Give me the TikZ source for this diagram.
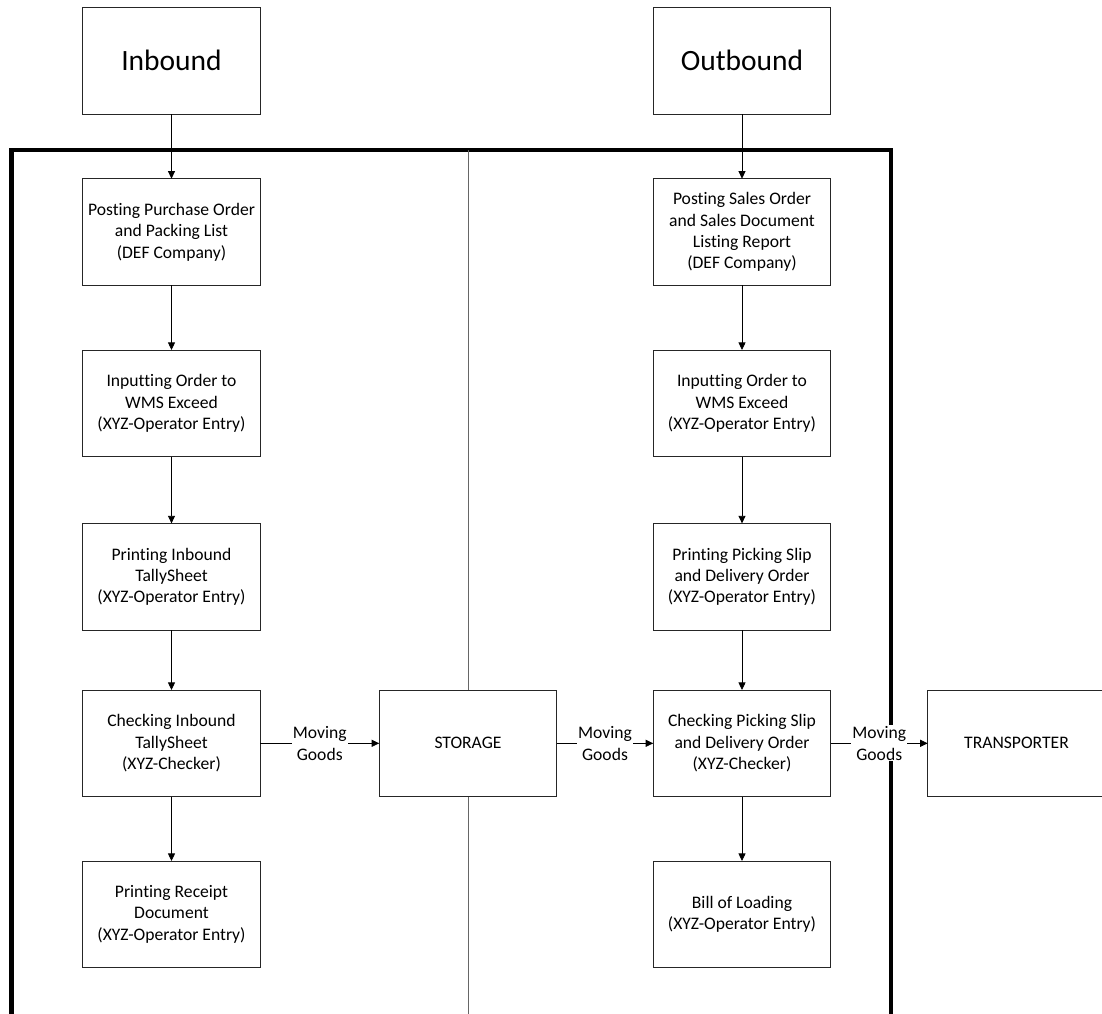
\documentclass[tikz,border=0pt]{standalone}
\usepackage{fontspec}
\setmainfont{Carlito}[Ligatures=NoCommon]
\usetikzlibrary{arrows.meta}
\begin{document}
\begin{tikzpicture}[x=1pt,y=-1pt,
  box/.style={draw=black!85, line width=0.8pt, fill=white, minimum width=177.6pt, minimum height=106.7pt,
    align=center, font=\fontsize{17.6}{21.4}\selectfont, inner sep=2pt, outer sep=0pt},
  headbox/.style={box, font=\fontsize{29.5}{36}\selectfont},
  flow/.style={line width=0.8pt, -{Triangle[length=7.5pt,width=7pt]}},
  lbl/.style={fill=white, align=center, font=\fontsize{17.6}{21.4}\selectfont, inner sep=1pt},
  frame/.style={line width=4.7pt, black},
  divider/.style={line width=0.8pt, black!60}
]
\useasboundingbox (0,0) rectangle (1102,1013);
\clip (0,0) rectangle (1102,1013);

% swimlane frame and divider
\coordinate (fbl) at (11.7,1025);
\coordinate (ftl) at (11.7,150);
\coordinate (ftr) at (891,150);
\coordinate (fbr) at (891,1025);
\coordinate (dt) at (468,150);
\coordinate (db) at (468,1025);
\draw[frame] (fbl) -- (ftl) -- (ftr) -- (fbr);
\draw[divider] (dt) -- (db);

% headers
\node[headbox] (inb) at (171.5,60.7) {Inbound};
\node[headbox] (outb) at (742,60.7) {Outbound};

% inbound column
\node[box] (l1) at (171.5,232) {Posting Purchase Order\\and Packing List\\(DEF Company)};
\node[box] (l2) at (171.5,403.3) {Inputting Order to\\WMS Exceed\\(XYZ-Operator Entry)};
\node[box] (l3) at (171.5,576.7) {Printing Inbound\\TallySheet\\(XYZ-Operator Entry)};
\node[box] (l4) at (171.5,743.3) {Checking Inbound\\TallySheet\\(XYZ-Checker)};
\node[box] (l5) at (171.5,914.3) {Printing Receipt\\Document\\(XYZ-Operator Entry)};

% storage
\node[box] (st) at (468,743.3) {STORAGE};

% outbound column
\node[box] (r1) at (742,232) {Posting Sales Order\\and Sales Document\\Listing Report\\(DEF Company)};
\node[box] (r2) at (742,403.3) {Inputting Order to\\WMS Exceed\\(XYZ-Operator Entry)};
\node[box] (r3) at (742,576.7) {Printing Picking Slip\\and Delivery Order\\(XYZ-Operator Entry)};
\node[box] (r4) at (742,743.3) {Checking Picking Slip\\and Delivery Order\\(XYZ-Checker)};
\node[box] (r5) at (742,914.3) {Bill of Loading\\(XYZ-Operator Entry)};

% transporter
\node[box] (tr) at (1016.5,743.3) {TRANSPORTER};

% connectors
\draw[flow] (inb) -- (l1);
\draw[flow] (l1) -- (l2);
\draw[flow] (l2) -- (l3);
\draw[flow] (l3) -- (l4);
\draw[flow] (l4) -- (l5);
\draw[flow] (outb) -- (r1);
\draw[flow] (r1) -- (r2);
\draw[flow] (r2) -- (r3);
\draw[flow] (r3) -- (r4);
\draw[flow] (r4) -- (r5);
\draw[flow] (l4) -- node[lbl] {Moving\\Goods} (st);
\draw[flow] (st) -- node[lbl] {Moving\\Goods} (r4);
\draw[flow] (r4) -- node[lbl] {Moving\\Goods} (tr);
\end{tikzpicture}
\end{document}
